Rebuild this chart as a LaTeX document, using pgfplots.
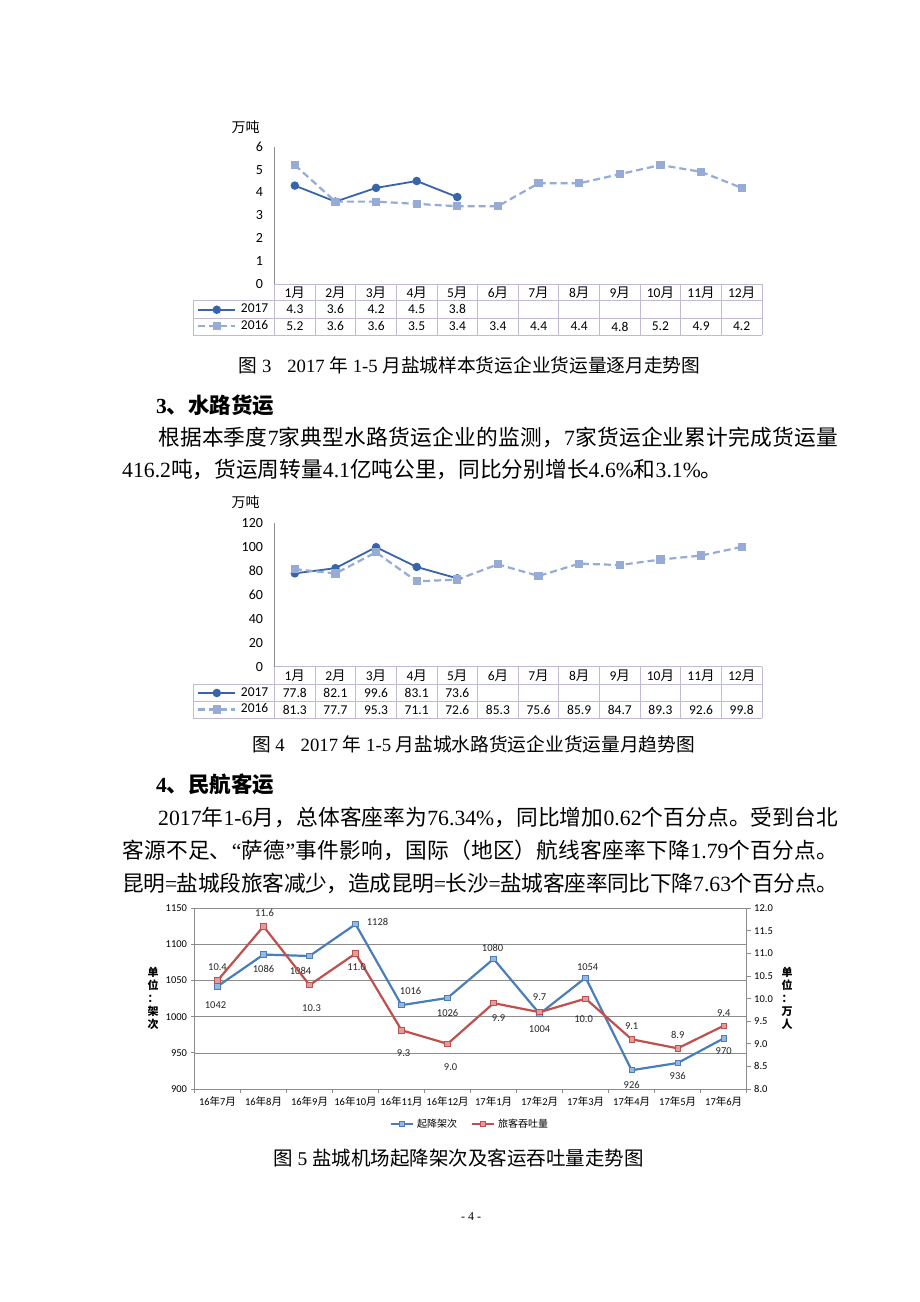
\documentclass[border=0pt]{standalone}
\usepackage{fontspec}
\usepackage{pgfplots}
\pgfplotsset{compat=1.18}
\setmainfont{Noto Sans CJK SC}
\newfontfamily\tm{Liberation Serif}
\newfontfamily\calf{Carlito}
\newfontfamily\cj{Noto Sans CJK SC}
\definecolor{c17}{RGB}{55,100,170}
\definecolor{c16}{RGB}{150,172,214}
\definecolor{tbl}{RGB}{195,185,210}
\definecolor{c3b}{RGB}{74,126,187}
\definecolor{c3r}{RGB}{192,80,77}
\definecolor{ax}{RGB}{140,140,140}

\makeatletter
\def\spr@end{\spr@end}
\def\spr@loop#1{\ifx\spr@end#1\else{#1}\hskip0pt plus 1fil minus 1fil\expandafter\spr@loop\fi}
\newcommand\spread[2]{\makebox[#1][s]{\spr@loop#2\spr@end\unskip}}
\makeatother
\newcommand\bodyf{\fontsize{21.7}{26}\selectfont}

\tikzset{
 s17/.style={c17, line width=1.8pt, mark=*, mark size=3.3pt, mark options={solid, fill=c17}},
 s16/.style={c16, line width=2.2pt, dash pattern=on 7pt off 4pt, mark=square*, mark size=3pt, mark options={solid, fill=c16}},
 sb/.style={c3b, line width=2.2pt, mark=square*, mark size=2.7pt, mark options={solid, fill=c3b!55!white, draw=c3b, line width=0.9pt}},
 sr/.style={c3r, line width=2.2pt, mark=square*, mark size=2.7pt, mark options={solid, fill=c3r!55!white, draw=c3r, line width=0.9pt}},
 lbl/.style={font=\calf\fontsize{10.5}{12}\selectfont, text=black!85, inner sep=0pt},
 tv/.style={font=\calf\fontsize{13.5}{15}\selectfont, inner sep=0pt}
}
\pgfplotsset{
 chartA/.style={
  scale only axis, anchor=south west, width=487.5pt,
  xmin=0.5, xmax=12.5, xtick=\empty,
  axis x line=none, axis y line*=left,
  axis line style={draw=ax, line width=0.8pt, -},
  major tick length=0pt,
  yticklabel style={font=\calf\fontsize{14}{16}\selectfont, xshift=-8pt},
  /pgf/number format/assume math mode=true,
  clip=false,
  legend style={anchor=center, draw=none, fill=none, inner sep=0pt,
    font=\calf\fontsize{13.5}{15}\selectfont,
    nodes={inner sep=1.5pt, text height=10pt, text depth=3.5pt},
    column sep=3pt, row sep=0pt},
  legend cell align=left,
  legend image code/.code={\draw[mark repeat=2,mark phase=2,##1] plot coordinates {(0pt,0pt) (18.5pt,0pt) (37pt,0pt)};}
 }
}

\begin{document}
\begin{tikzpicture}[x=1pt,y=1pt]
\useasboundingbox (0,0) rectangle (920,1302);
\fill[white] (0,0) rectangle (920,1302);

% ================= Chart 1 =================
\node[font=\fontsize{14}{16}\selectfont] at (245.5,1175) {万吨};
\begin{axis}[chartA, at={(274.5pt,1018pt)}, height=137.3pt,
  ymin=0, ymax=6, ytick={0,1,...,6},
  legend style={at={(-0.0841,-0.2476)}}]
\addplot[s17] coordinates {(1,4.3)(2,3.6)(3,4.2)(4,4.5)(5,3.8)};
\addplot[s16] coordinates {(1,5.2)(2,3.6)(3,3.6)(4,3.5)(5,3.4)(6,3.4)(7,4.4)(8,4.4)(9,4.8)(10,5.2)(11,4.9)(12,4.2)};
\legend{2017,2016}
\end{axis}
\begin{scope}[tbl, line width=0.8pt]
\draw (274.5,1018) -- (762,1018);
\draw (193,1001.3) -- (762,1001.3);
\draw (193,984) -- (762,984);
\draw (193,967) -- (762,967);
\draw (193,1001.3) -- (193,967);
\foreach \k in {0,...,12} \draw ({274.5+\k*40.625},1018) -- ({274.5+\k*40.625},967);
\end{scope}
\foreach \i in {1,...,12} \node[tv] at ({274.5+(\i-0.5)*40.625},1009.7) {{\calf\i}{\cj 月}};
\foreach \v [count=\i] in {4.3,3.6,4.2,4.5,3.8} \node[tv] at ({274.5+(\i-0.5)*40.625},992.7) {\v};
\foreach \v [count=\i] in {5.2,3.6,3.6,3.5,3.4,3.4,4.4,4.4,4.8,5.2,4.9,4.2} \node[tv] at ({274.5+(\i-0.5)*40.625},975.5) {\v};

% captions and text
\node at (469.5,937) {\fontsize{18.7}{22}\selectfont 图{\tm\ 3}\hspace{16pt}{\tm 2017 }年{\tm\ 1-5 }月盐城样本货运企业货运量逐月走势图};
\node[anchor=west, inner sep=0pt] at (156,897) {\fontsize{21.5}{24}\selectfont\bfseries {\tm 3}、水路货运};
\node[anchor=west, inner sep=0pt] at (158,865) {\bodyf\spread{680pt}{根据本季度{\tm 7}家典型水路货运企业的监测，{\tm 7}家货运企业累计完成货运量}};
\node[anchor=west, inner sep=0pt] at (122,832) {\bodyf {\tm 416.2}吨，货运周转量{\tm 4.1}亿吨公里，同比分别增长{\tm 4.6\%}和{\tm 3.1\%}。};

% ================= Chart 2 =================
\node[font=\fontsize{14}{16}\selectfont] at (245.5,800) {万吨};
\begin{axis}[chartA, at={(274.5pt,635.3pt)}, height=144pt,
  ymin=0, ymax=120, ytick={0,20,...,120},
  legend style={at={(-0.0841,-0.24)}}]
\addplot[s17] coordinates {(1,77.8)(2,82.1)(3,99.6)(4,83.1)(5,73.6)};
\addplot[s16] coordinates {(1,81.3)(2,77.7)(3,95.3)(4,71.1)(5,72.6)(6,85.3)(7,75.6)(8,85.9)(9,84.7)(10,89.3)(11,92.6)(12,99.8)};
\legend{2017,2016}
\end{axis}
\begin{scope}[tbl, line width=0.8pt]
\draw (274.5,635.3) -- (762,635.3);
\draw (193,618) -- (762,618);
\draw (193,600.7) -- (762,600.7);
\draw (193,583.7) -- (762,583.7);
\draw (193,618) -- (193,583.7);
\foreach \k in {0,...,12} \draw ({274.5+\k*40.625},635.3) -- ({274.5+\k*40.625},583.7);
\end{scope}
\foreach \i in {1,...,12} \node[tv] at ({274.5+(\i-0.5)*40.625},626.5) {{\calf\i}{\cj 月}};
\foreach \v [count=\i] in {77.8,82.1,99.6,83.1,73.6} \node[tv] at ({274.5+(\i-0.5)*40.625},609.3) {\v};
\foreach \v [count=\i] in {81.3,77.7,95.3,71.1,72.6,85.3,75.6,85.9,84.7,89.3,92.6,99.8} \node[tv] at ({274.5+(\i-0.5)*40.625},592.2) {\v};

\node at (473.5,558) {\fontsize{18.7}{22}\selectfont 图{\tm\ 4}\hspace{16pt}{\tm 2017 }年{\tm\ 1-5 }月盐城水路货运企业货运量月趋势图};
\node[anchor=west, inner sep=0pt] at (156,518) {\fontsize{21.5}{24}\selectfont\bfseries {\tm 4}、民航客运};
\node[anchor=west, inner sep=0pt] at (158,485) {\bodyf\spread{680pt}{{\tm 2017}年{\tm 1-6}月，总体客座率为{\tm 76.34\%}，同比增加{\tm 0.62}个百分点。受到台北}};
\node[anchor=west, inner sep=0pt] at (122,452) {\bodyf\spread{716pt}{客源不足、{\tm “}萨德{\tm ”}事件影响，国际（地区）航线客座率下降{\tm 1.79}个百分点。}};
\node[anchor=west, inner sep=0pt] at (122,419) {\bodyf\spread{716pt}{昆明{\tm =}盐城段旅客减少，造成昆明{\tm =}长沙{\tm =}盐城客座率同比下降{\tm 7.63}个百分点。}};

% ================= Chart 3 =================
\begin{axis}[scale only axis, anchor=south west, at={(194.5pt,213pt)}, width=552.2pt, height=180.7pt,
  xmin=0.5, xmax=12.5, ymin=900, ymax=1150, ytick={900,950,...,1150},
  xtick={0.5,1.5,...,12.5}, xticklabels={{},{},{},{},{},{},{},{},{},{},{},{},{}},
  extra x ticks={1,...,12},
  extra x tick labels={16{\cj 年}7{\cj 月},16{\cj 年}8{\cj 月},16{\cj 年}9{\cj 月},16{\cj 年}10{\cj 月},16{\cj 年}11{\cj 月},16{\cj 年}12{\cj 月},17{\cj 年}1{\cj 月},17{\cj 年}2{\cj 月},17{\cj 年}3{\cj 月},17{\cj 年}4{\cj 月},17{\cj 年}5{\cj 月},17{\cj 年}6{\cj 月}},
  extra x tick style={tick style={draw=none}},
  axis x line*=bottom, axis y line*=left,
  axis line style={draw=ax, line width=0.8pt, -},
  tick align=outside, major tick length=4pt,
  tick style={draw=ax, line width=0.8pt},
  ymajorgrids, grid style={draw=ax, line width=0.7pt},
  ticklabel style={font=\calf\fontsize{10.5}{12}\selectfont},
  /pgf/number format/assume math mode=true,
  /pgf/number format/1000 sep={},
  clip=false]
\addplot[sb] coordinates {(1,1042)(2,1086)(3,1084)(4,1128)(5,1016)(6,1026)(7,1080)(8,1004)(9,1054)(10,926)(11,936)(12,970)};
\node[lbl] at (axis cs:1,1042) [xshift=-2pt, yshift=-19pt] {1042};
\node[lbl] at (axis cs:2,1086) [yshift=-14pt] {1086};
\node[lbl] at (axis cs:3,1084) [xshift=-9pt, yshift=-15pt] {1084};
\node[lbl] at (axis cs:4,1128) [xshift=22pt, yshift=2pt] {1128};
\node[lbl] at (axis cs:5,1016) [xshift=9pt, yshift=14pt] {1016};
\node[lbl] at (axis cs:6,1026) [yshift=-15pt] {1026};
\node[lbl] at (axis cs:7,1080) [xshift=-1pt, yshift=11pt] {1080};
\node[lbl] at (axis cs:8,1004) [yshift=-15pt] {1004};
\node[lbl] at (axis cs:9,1054) [xshift=2pt, yshift=11pt] {1054};
\node[lbl] at (axis cs:10,926) [yshift=-15pt] {926};
\node[lbl] at (axis cs:11,936) [yshift=-13pt] {936};
\node[lbl] at (axis cs:12,970) [yshift=-13pt] {970};
\end{axis}
\begin{axis}[scale only axis, anchor=south west, at={(194.5pt,213pt)}, width=552.2pt, height=180.7pt,
  xmin=0.5, xmax=12.5, ymin=8, ymax=12, ytick={8,8.5,...,12},
  xtick=\empty, axis x line=none, axis y line*=right,
  axis line style={draw=ax, line width=0.8pt, -},
  tick align=outside, major tick length=4pt,
  tick style={draw=ax, line width=0.8pt},
  ticklabel style={font=\calf\fontsize{10.5}{12}\selectfont},
  /pgf/number format/assume math mode=true,
  /pgf/number format/fixed, /pgf/number format/fixed zerofill, /pgf/number format/precision=1,
  clip=false,
  legend columns=2,
  legend style={at={(0.499,-0.194)}, anchor=center, draw=none, fill=none,
    font=\fontsize{10}{12}\selectfont, column sep=1pt,
    /tikz/every even column/.append style={column sep=12pt}},
  legend image code/.code={\draw[mark repeat=2,mark phase=2,#1] plot coordinates {(0pt,0pt) (11pt,0pt) (22pt,0pt)};}]
\addlegendimage{sb}
\addlegendentry{起降架次}
\addplot[sr] coordinates {(1,10.4)(2,11.6)(3,10.3)(4,11.0)(5,9.3)(6,9.0)(7,9.9)(8,9.7)(9,10.0)(10,9.1)(11,8.9)(12,9.4)};
\addlegendentry{旅客吞吐量}
\node[lbl] at (axis cs:1,10.4) [yshift=13pt] {10.4};
\node[lbl] at (axis cs:2,11.6) [xshift=1pt, yshift=13pt] {11.6};
\node[lbl] at (axis cs:3,10.3) [xshift=2pt, yshift=-23pt] {10.3};
\node[lbl] at (axis cs:4,11.0) [xshift=1pt, yshift=-14pt] {11.0};
\node[lbl] at (axis cs:5,9.3) [xshift=2pt, yshift=-23pt] {9.3};
\node[lbl] at (axis cs:6,9.0) [xshift=3pt, yshift=-23pt] {9.0};
\node[lbl] at (axis cs:7,9.9) [xshift=5pt, yshift=-15pt] {9.9};
\node[lbl] at (axis cs:8,9.7) [yshift=15pt] {9.7};
\node[lbl] at (axis cs:9,10.0) [xshift=-2pt, yshift=-20pt] {10.0};
\node[lbl] at (axis cs:10,9.1) [yshift=13pt] {9.1};
\node[lbl] at (axis cs:11,8.9) [yshift=13pt] {8.9};
\node[lbl] at (axis cs:12,9.4) [yshift=13pt] {9.4};
\end{axis}
\node[align=center, font=\fontsize{11}{13}\selectfont\bfseries, inner sep=0pt] at (153,304) {单\\位\\：\\架\\次};
\node[align=center, font=\fontsize{11}{13}\selectfont\bfseries, inner sep=0pt] at (787,304) {单\\位\\：\\万\\人};

\node at (458.5,144) {\fontsize{19.5}{22}\selectfont 图{\tm\ 5 }盐城机场起降架次及客运吞吐量走势图};
\node at (471,85) {\tm\fontsize{12}{14}\selectfont - 4 -};
\end{tikzpicture}
\end{document}
